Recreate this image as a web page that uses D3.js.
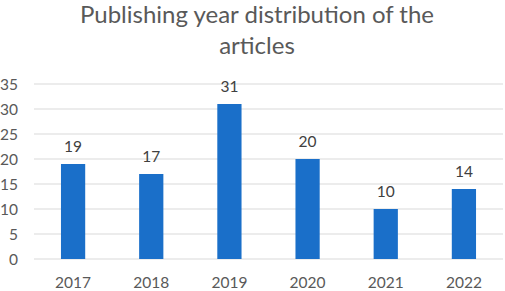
<!DOCTYPE html>
<html><head><meta charset="utf-8">
<script src="https://cdn.jsdelivr.net/npm/d3@7"></script>
<style>body{margin:0;background:#fff;} svg{display:block;}</style>
</head><body>
<script>
const categories = ["2017","2018","2019","2020","2021","2022"];
const values = [19,17,31,20,10,14];
const yTicks = [0,5,10,15,20,25,30,35];
const titleLines = ["Publishing year distribution of the","articles"];

const W = 505, H = 291;
const m = {left:34, right:2, top:84, bottom:32};
const font = "Lato, 'Open Sans', sans-serif";
const svg = d3.select("body").append("svg").attr("width",W).attr("height",H);
svg.append("rect").attr("width",W).attr("height",H).attr("fill","#fff");

const x = d3.scaleBand().domain(categories).range([m.left, W-m.right]).paddingInner(0.69).paddingOuter(0.345);
const y = d3.scaleLinear().domain([0,35]).range([259, 84]);

// gridlines
svg.append("g").selectAll("line").data(yTicks).join("line")
  .attr("x1", m.left).attr("x2", W-m.right)
  .attr("y1", d=>y(d)).attr("y2", d=>y(d))
  .attr("stroke","#d9d9d9").attr("stroke-width",1);

// y axis labels
const yAxis = d3.axisLeft(y).tickValues(yTicks).tickSize(0).tickPadding(16);
const gy = svg.append("g").attr("transform",`translate(${m.left},0)`).call(yAxis);
gy.select(".domain").remove();
gy.selectAll("text").attr("font-family",font).attr("font-size",15.5).attr("fill","#595959").attr("dy","0.35em");

// x axis labels
const xAxis = d3.axisBottom(x).tickSize(0).tickPadding(18);
const gx = svg.append("g").attr("transform",`translate(0,${y(0)})`).call(xAxis);
gx.select(".domain").remove();
gx.selectAll("text").attr("font-family",font).attr("font-size",15.5).attr("fill","#595959");

// bars
svg.append("g").selectAll("rect").data(values).join("rect")
  .attr("x",(d,i)=>x(categories[i])).attr("width",x.bandwidth())
  .attr("y",d=>y(d)).attr("height",d=>y(0)-y(d))
  .attr("fill","#1a6fc9");

// labels
svg.append("g").selectAll("text").data(values).join("text")
  .attr("x",(d,i)=>x(categories[i])+x.bandwidth()/2)
  .attr("y",d=>y(d)-12)
  .attr("text-anchor","middle")
  .attr("font-family",font).attr("font-size",15.5).attr("fill","#404040")
  .text(d=>d);

// title
svg.append("g").selectAll("text").data(titleLines).join("text")
  .attr("x",257).attr("y",(d,i)=>23+i*30.5)
  .attr("text-anchor","middle")
  .attr("font-family",font).attr("font-size",24).attr("fill","#595959")
  .text(d=>d);
</script>
</body></html>
